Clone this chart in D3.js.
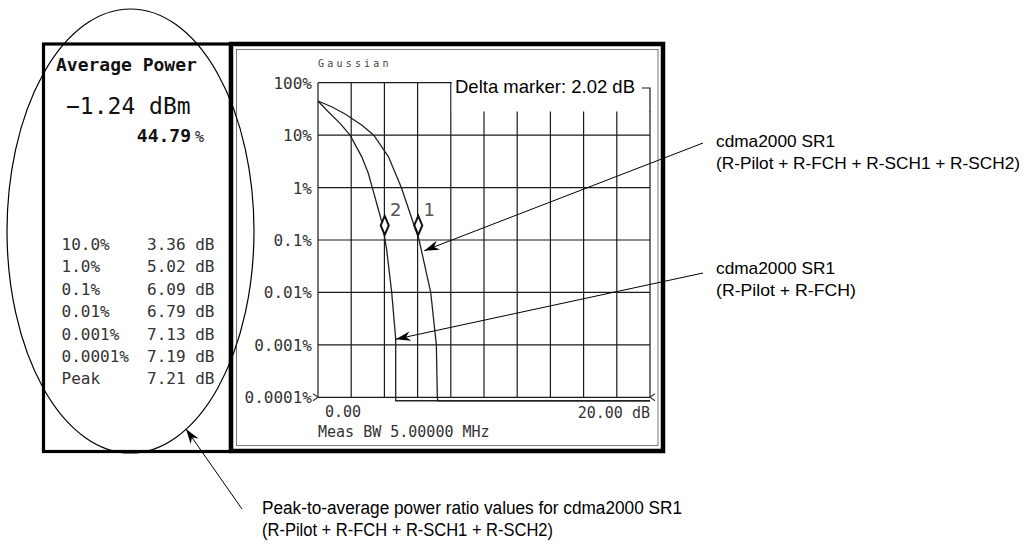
<!DOCTYPE html>
<html><head><meta charset="utf-8">
<script src="https://cdn.jsdelivr.net/npm/d3@7"></script>
<style>
body{margin:0;background:#fff;}
svg{display:block;}
</style></head><body>
<svg id="chart" width="1030" height="544"></svg>
<script>
// ---------- data ----------
const FLOOR_PCT = 0.000086;            // trace floor drawn just below 0.0001 %
const xDomainDb = [0, 20];
const pctTicks = [100, 10, 1, 0.1, 0.01, 0.001, 0.0001];
const pctTickLabels = ["100%", "10%", "1%", "0.1%", "0.01%", "0.001%", "0.0001%"];
const xGridDb = [0, 2, 4, 6, 8, 10, 12, 14, 16, 18, 20];
const xEndLabels = ["0.00", "20.00 dB"];

// cdma2000 SR1 (R-Pilot + R-FCH + R-SCH1 + R-SCH2)  -> marker 1
const fullDb  = [0, 0.82, 1.63, 2.63, 3.36, 4.24, 5.02, 6.09, 6.79, 7.13, 7.19, 7.21, 7.21, 20];
const fullPct = [44.79, 34.8, 25.3, 15.6, 10, 3.9, 1, 0.1, 0.01, 0.001, 0.0001, 0.00009, FLOOR_PCT, FLOOR_PCT];
// cdma2000 SR1 (R-Pilot + R-FCH)  -> marker 2
const fchDb  = [0, 0.62, 1.33, 1.93, 2.63, 3.03, 3.27, 3.59, 3.9, 4.04, 4.14, 4.44, 4.68, 4.68, 20];
const fchPct = [44.79, 28, 16.8, 10, 3.9, 1.87, 1, 0.43, 0.19, 0.1, 0.064, 0.01, 0.0013, FLOOR_PCT, FLOOR_PCT];

const markerNames = ["1", "2"];
const markerDb = [6.04, 4.02];
const markerPct = [0.19, 0.19];
const deltaMarkerDb = 2.02;

const avgPowerDbm = -1.24;
const avgPowerPct = 44.79;
const statLabels = ["10.0%", "1.0%", "0.1%", "0.01%", "0.001%", "0.0001%", "Peak"];
const statValues = [3.36, 5.02, 6.09, 6.79, 7.13, 7.19, 7.21];
const measBwMHz = 5.0;

// callout targets (points on the traces)
const calloutFullAt = [6.40, 0.0625];
const calloutFchAt  = [4.68, 0.00128];

// ---------- drawing ----------
const svg = d3.select("#chart");
const MONO = "'DejaVu Sans Mono', monospace";
const SANS = "'Liberation Sans Narrow', 'Liberation Sans', Arial, sans-serif";

const x = d3.scaleLinear().domain(xDomainDb).range([318, 650]);
const y = d3.scaleLog().domain([0.0001, 100]).range([397.3, 82.7]);

// panels
svg.append("rect").attr("x", 43.5).attr("y", 44).attr("width", 187).attr("height", 407.5)
  .attr("fill", "none").attr("stroke", "#000").attr("stroke-width", 3.2);
svg.append("rect").attr("x", 231).attr("y", 44).attr("width", 432).attr("height", 407)
  .attr("fill", "none").attr("stroke", "#000").attr("stroke-width", 4.5);
svg.append("rect").attr("x", 236.5).attr("y", 49.5).attr("width", 421.5).attr("height", 396)
  .attr("fill", "none").attr("stroke", "#555").attr("stroke-width", 0.8);

// grid
const g = svg.append("g");
g.selectAll("line.v").data(xGridDb).join("line").attr("class", "v")
  .attr("x1", d => x(d)).attr("x2", d => x(d))
  .attr("y1", y(100)).attr("y2", y(0.0001))
  .attr("stroke", "#1a1a1a").attr("stroke-width", 1.2);
g.selectAll("line.h").data(pctTicks).join("line").attr("class", "h")
  .attr("x1", x(0)).attr("x2", x(20))
  .attr("y1", d => y(d)).attr("y2", d => y(d))
  .attr("stroke", "#1a1a1a").attr("stroke-width", 1.2);

// delta marker readout box (masks top right of grid)
svg.append("rect").attr("x", x(8) + 1).attr("y", 74).attr("width", x(20) - x(8) + 6).attr("height", 111.5 - 74)
  .attr("fill", "#fff");
svg.append("path").attr("d", `M${x(20) - 8},88 H${x(20)} V112`)
  .attr("fill", "none").attr("stroke", "#1a1a1a").attr("stroke-width", 1.2);
svg.append("text").attr("x", 455).attr("y", 92.5)
  .attr("font-family", SANS).attr("font-size", 19).attr("fill", "#000")
  .attr("textLength", 180).attr("lengthAdjust", "spacingAndGlyphs")
  .text(`Delta marker: ${deltaMarkerDb.toFixed(2)} dB`);

// axis end chevrons
svg.append("path").attr("d", `M${x(0) - 5},${y(0.0001) - 3.5} L${x(0)},${y(0.0001)} L${x(0) - 5},${y(0.0001) + 3.5}`)
  .attr("fill", "none").attr("stroke", "#333").attr("stroke-width", 1.1);
svg.append("path").attr("d", `M${x(20) + 5},${y(0.0001) - 3.5} L${x(20)},${y(0.0001)} L${x(20) + 5},${y(0.0001) + 3.5}`)
  .attr("fill", "none").attr("stroke", "#333").attr("stroke-width", 1.1);

// y tick labels
svg.selectAll("text.yl").data(pctTicks).join("text").attr("class", "yl")
  .attr("x", 312).attr("y", d => y(d) + 6)
  .attr("text-anchor", "end").attr("font-family", MONO).attr("font-size", 16).attr("fill", "#333")
  .text((d, i) => pctTickLabels[i]);

// Gaussian label
svg.append("text").attr("x", 318).attr("y", 67).attr("font-family", MONO).attr("font-size", 10)
  .attr("letter-spacing", 3.2).attr("fill", "#444").text("Gaussian");

// x labels
svg.append("text").attr("x", x(0) + 7).attr("y", 417).attr("font-family", MONO).attr("font-size", 15)
  .attr("fill", "#333").text(xEndLabels[0]);
svg.append("text").attr("x", x(20)).attr("y", 418).attr("text-anchor", "end").attr("font-family", MONO)
  .attr("font-size", 15).attr("fill", "#333").text(xEndLabels[1]);
svg.append("text").attr("x", x(0)).attr("y", 437).attr("font-family", MONO).attr("font-size", 15)
  .attr("fill", "#333").text(`Meas BW ${measBwMHz.toFixed(5)} MHz`);

// traces
const line = d3.line().x(d => x(d[0])).y(d => y(d[1]));
const fullPts = fullDb.map((d, i) => [d, fullPct[i]]);
const fchPts = fchDb.map((d, i) => [d, fchPct[i]]);
[fullPts, fchPts].forEach(pts => {
  svg.append("path").attr("d", line(pts)).attr("fill", "none")
    .attr("stroke", "#222").attr("stroke-width", 1.3);
});

// markers
markerDb.forEach((db, i) => {
  const cx = x(db), cy = y(markerPct[i]);
  svg.append("path").attr("d", `M${cx},${cy - 9.5} L${cx + 4},${cy} L${cx},${cy + 9.5} L${cx - 4},${cy} Z`)
    .attr("fill", "#fff").attr("stroke", "#111").attr("stroke-width", 2);
  svg.append("text").attr("x", cx + 11).attr("y", cy - 9).attr("text-anchor", "middle")
    .attr("font-family", "'DejaVu Sans', sans-serif").attr("font-size", 18).attr("fill", "#555")
    .text(markerNames[i]);
});

// left readout panel
svg.append("text").attr("x", 56).attr("y", 71).attr("font-family", MONO).attr("font-weight", "bold")
  .attr("font-size", 18).attr("fill", "#111").text("Average Power");
svg.append("text").attr("x", 66).attr("y", 114).attr("font-family", MONO)
  .attr("font-size", 23).attr("fill", "#111").text(`\u2212${Math.abs(avgPowerDbm).toFixed(2)} dBm`);
svg.append("text").attr("x", 191).attr("y", 142).attr("text-anchor", "end").attr("font-family", MONO)
  .attr("font-weight", "bold").attr("font-size", 18).attr("fill", "#111").text(avgPowerPct.toFixed(2));
svg.append("text").attr("x", 195).attr("y", 142).attr("font-family", MONO)
  .attr("font-size", 15).attr("fill", "#222").text("%");

const rowY = i => 250 + i * 22.4;
svg.selectAll("text.sl").data(statLabels).join("text").attr("class", "sl")
  .attr("x", 61.5).attr("y", (d, i) => rowY(i))
  .attr("font-family", MONO).attr("font-size", 16).attr("fill", "#333").text(d => d);
svg.selectAll("text.sv").data(statValues).join("text").attr("class", "sv")
  .attr("x", 147).attr("y", (d, i) => rowY(i))
  .attr("font-family", MONO).attr("font-size", 16).attr("fill", "#333").text(d => `${d.toFixed(2)} dB`);

// ellipse callout
svg.append("ellipse").attr("cx", 130.5).attr("cy", 231).attr("rx", 123.5).attr("ry", 222)
  .attr("fill", "none").attr("stroke", "#000").attr("stroke-width", 1.2);

// arrows
function arrow(x1, y1, x2, y2) {
  svg.append("line").attr("x1", x1).attr("y1", y1).attr("x2", x2).attr("y2", y2)
    .attr("stroke", "#000").attr("stroke-width", 1);
  const a = Math.atan2(y2 - y1, x2 - x1);
  const ux = Math.cos(a), uy = Math.sin(a), nx = -uy, ny = ux;
  const L = 15, W = 4.8, N = 10.5;
  const p = [
    [x2, y2],
    [x2 - L * ux + W * nx, y2 - L * uy + W * ny],
    [x2 - N * ux, y2 - N * uy],
    [x2 - L * ux - W * nx, y2 - L * uy - W * ny]
  ];
  svg.append("path").attr("d", "M" + p.map(q => q.join(",")).join("L") + "Z").attr("fill", "#000");
}
arrow(703, 143, x(calloutFullAt[0]), y(calloutFullAt[1]));
arrow(703, 273, x(calloutFchAt[0]), y(calloutFchAt[1]));
arrow(242, 509, 186, 429);

// callout texts
function callout(tx, ty, txt, w, fs) {
  svg.append("text").attr("x", tx).attr("y", ty).attr("font-family", SANS).attr("font-size", fs)
    .attr("fill", "#000").attr("textLength", w).attr("lengthAdjust", "spacingAndGlyphs").text(txt);
}
callout(716, 147, "cdma2000 SR1", 119, 17);
callout(716, 168.5, "(R-Pilot + R-FCH + R-SCH1 + R-SCH2)", 304, 17);
callout(716, 274, "cdma2000 SR1", 119, 17);
callout(716, 295.5, "(R-Pilot + R-FCH)", 140, 17);
callout(262, 514, "Peak-to-average power ratio values for cdma2000 SR1", 420, 18);
callout(262, 536, "(R-Pilot + R-FCH + R-SCH1 + R-SCH2)", 291, 18);
</script>
</body></html>
